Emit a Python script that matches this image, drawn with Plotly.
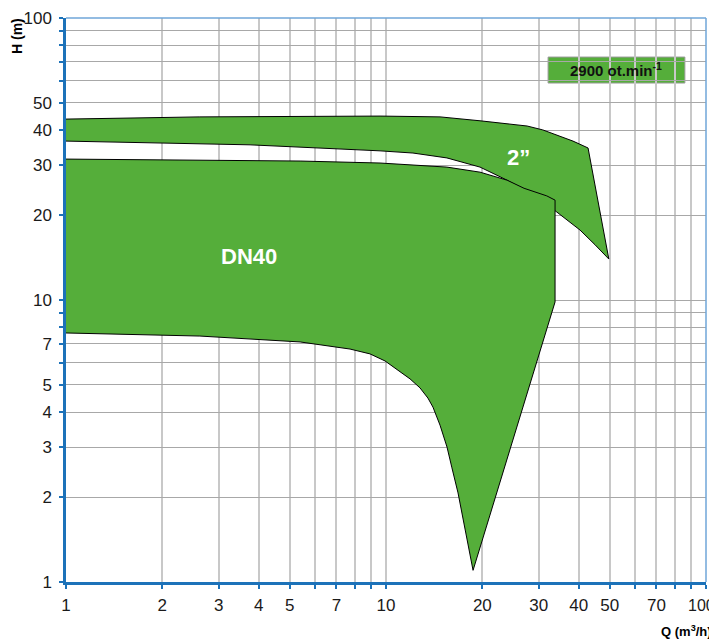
import plotly.graph_objects as go

# ---- data ----
# 2" pump range (closed outline: upper curve left->right, then lower curve right->left)
two_inch_q = [1, 2.62, 9.58, 14.75, 19.67, 27.6, 30.9, 34.2, 38.4, 42.8,
              49.7, 45.0, 40.4, 34.2, 29.6, 23.9, 19.67, 15.5, 12.14, 9.58, 3.76, 1]
two_inch_h = [43.8, 44.6, 44.9, 44.6, 43.2, 41.4, 40.1, 38.5, 36.6, 34.6,
              13.97, 15.7, 17.7, 20.5, 23.2, 26.6, 29.6, 31.9, 33.2, 33.8, 35.5, 36.6]

# DN40 pump range (closed outline)
dn40_q = [1, 2.62, 5.39, 9.58, 12.77, 15.5, 19.67, 23.9, 27.0, 29.6, 31.8, 33.75,
          33.75, 18.71, 17.66, 16.79, 16.07, 15.51, 14.75, 14.02, 13.52, 12.77, 11.89,
          11.06, 9.93, 8.91, 7.72, 5.39, 2.62, 1]
dn40_h = [31.6, 31.4, 31.1, 30.6, 30.1, 29.6, 28.4, 26.6, 24.9, 24.1, 23.4, 22.6,
          9.84, 1.10, 1.53, 2.07, 2.54, 3.01, 3.60, 4.17, 4.49, 4.88, 5.25,
          5.56, 6.08, 6.44, 6.70, 7.10, 7.45, 7.64]

x_tickvals = [1, 2, 3, 4, 5, 6, 7, 8, 9, 10, 20, 30, 40, 50, 60, 70, 80, 90, 100]
x_ticktext = ["1", "2", "3", "4", "5", "", "7", "", "", "10", "20", "30", "40", "50", "", "70", "", "", ""]
x_last_label = "100"   # drawn right-aligned at the edge so it is not clipped
y_tickvals = [1, 2, 3, 4, 5, 6, 7, 8, 9, 10, 20, 30, 40, 50, 60, 70, 80, 90, 100]
y_ticktext = ["1", "2", "3", "4", "5", "", "7", "", "", "10", "20", "30", "40", "50", "", "", "", "", "100"]

speed_label = "<b>2900 ot.min<sup>-1</sup></b>"
GREEN = "#55AE3A"
BLUE = "#1C72B9"
LIGHTBLUE = "#6FA6D8"

# page body has an 8px default margin; size the figure so it fills the window
OFF = 8
W, H = 717 - OFF, 640 - OFF
ml, mr, mt, mb = 66 - OFF, 11, 18 - OFF, 58
pw, ph = W - ml - mr, H - mt - mb


def px_to_paper(sx, sy):
    """screen pixel -> paper coords"""
    fx, fy = sx - OFF, sy - OFF
    return (fx - ml) / pw, 1 - (fy - mt) / ph


fig = go.Figure()
fig.add_trace(go.Scatter(x=two_inch_q, y=two_inch_h, mode="lines", fill="toself",
                         fillcolor=GREEN, line=dict(color="#000000", width=1),
                         hoverinfo="skip", showlegend=False))
fig.add_trace(go.Scatter(x=dn40_q, y=dn40_h, mode="lines", fill="toself",
                         fillcolor=GREEN, line=dict(color="#000000", width=1),
                         hoverinfo="skip", showlegend=False))

tickfont = dict(family="Liberation Sans Narrow, Arial Narrow, Liberation Sans, Arial",
                size=17, color="#1a1a1a")

fig.update_xaxes(type="log", range=[0, 2], tickmode="array", tickvals=x_tickvals,
                 ticktext=x_ticktext, showgrid=True, gridcolor="#C8C8C8", gridwidth=1.5,
                 showline=True, linecolor=BLUE, linewidth=2.5, ticks="outside",
                 ticklen=4, tickwidth=2, tickcolor=BLUE, tickfont=tickfont,
                 ticklabelstandoff=2, ticklabeloverflow="allow", zeroline=False)
fig.update_yaxes(type="log", range=[0, 2], tickmode="array", tickvals=y_tickvals,
                 ticktext=y_ticktext, showgrid=True, gridcolor="#A8A8A8", gridwidth=1,
                 showline=True, linecolor=BLUE, linewidth=2.5, ticks="outside",
                 ticklen=4, tickwidth=2, tickcolor=BLUE, tickfont=tickfont,
                 ticklabelstandoff=4, ticklabeloverflow="allow", zeroline=False)

# top and right frame lines
fig.add_shape(type="line", xref="paper", yref="paper", x0=0, x1=1, y0=1, y1=1,
              line=dict(color=LIGHTBLUE, width=1.5))
fig.add_shape(type="line", xref="paper", yref="paper", x0=1, x1=1, y0=0, y1=1,
              line=dict(color=LIGHTBLUE, width=1.5))

# speed label box (below grid)
fig.add_shape(type="rect", xref="x", yref="y", x0=32.1, x1=85.9, y0=58.8, y1=72.7,
              fillcolor=GREEN, line=dict(color="#9a9a9a", width=1), layer="below")
fig.add_annotation(x=1.72, y=1.816, xref="x", yref="y", text=speed_label,
                   showarrow=False, font=dict(family="Liberation Sans, Arial", size=15,
                                              color="#111111"))
fig.add_annotation(x=0.572, y=1.156, xref="x", yref="y", text="<b>DN40</b>",
                   showarrow=False, font=dict(family="Liberation Sans, Arial", size=22,
                                              color="#FFFFFF"))
fig.add_annotation(x=1.4125, y=1.505, xref="x", yref="y", text="<b>2”</b>",
                   showarrow=False, font=dict(family="Liberation Sans, Arial", size=22,
                                              color="#FFFFFF"))

# last x tick label, right-aligned to the page edge
lx, ly = px_to_paper(716, 605)
fig.add_annotation(x=lx, y=ly, xref="paper", yref="paper", text=x_last_label,
                   showarrow=False, xanchor="right", yanchor="middle", borderpad=0,
                   font=dict(family="Liberation Sans, Arial", size=16, color="#1a1a1a"))

# axis titles (positioned from screen pixels)
hx, hy = px_to_paper(17, 36)
fig.add_annotation(x=hx, y=hy, xref="paper", yref="paper", text="<b>H (m)</b>",
                   showarrow=False, textangle=-90, xanchor="center", yanchor="middle",
                   borderpad=0, font=dict(family="Liberation Sans, Arial", size=14, color="#000000"))
qx, qy = px_to_paper(686, 631)
fig.add_annotation(x=qx, y=qy, xref="paper", yref="paper", text="<b>Q (m<sup>3</sup>/h)</b>",
                   showarrow=False, xanchor="center", yanchor="middle", borderpad=0,
                   font=dict(family="Liberation Sans, Arial", size=13, color="#000000"))

fig.update_layout(width=W, height=H, margin=dict(l=ml, r=mr, t=mt, b=mb, autoexpand=False),
                  plot_bgcolor="#FFFFFF", paper_bgcolor="#FFFFFF", showlegend=False)

fig.write_html("out.html")
